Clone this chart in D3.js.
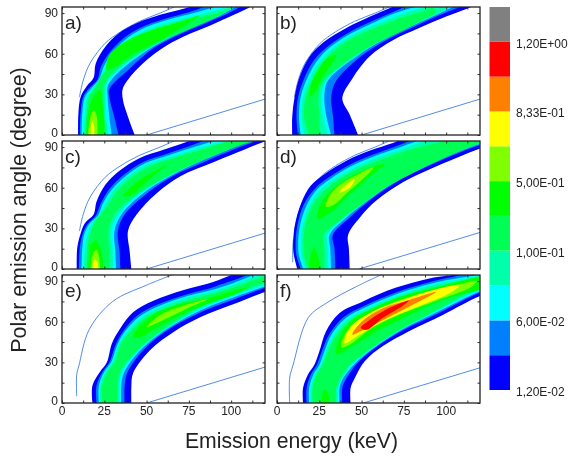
<!DOCTYPE html>
<meta charset="utf-8">
<script src="https://d3js.org/d3.v7.min.js"></script>
<style>
  body { margin: 0; background: #fff; }
  text { font-family: "Liberation Sans", Arial, sans-serif; fill: #222; }
</style>
<div id="my_dataviz"></div>
<script>

// one contour = its left edge going up + its right edge going up, [keV, degree]
const band = (left, right) => left.concat(right.slice().reverse());

// color bar, from the lowest bin to the highest
const barColors = ["#0000ff", "#0080ff", "#00ffff", "#00ffaa", "#00ff55", "#00ff00", "#80ff00", "#ffff00", "#ff8000", "#ff0000", "#808080"];
const barLabels = ["1,20E-02", "6,00E-02", "1,00E-01", "5,00E-01", "8,33E-01", "1,20E+00"];
const keVTicks = [0, 25, 50, 75, 100];
const degTicks = [0, 30, 60, 90];

// panel a
const a1 = band([[9.5,0],[9.7,16],[11,28],[14.6,36],[18.6,42],[20,53],[25.5,65],[33.4,75],[44,82.5],[58,88.7],[74,94],[84,98]],
                [[43,0],[39,13.5],[36,26],[36,34.5],[44.6,49],[58,63],[72,72.7],[88,81],[101.6,88.7],[110.5,94],[118,98]]);
const a2 = band([[10.6,0],[11,16],[12.5,28],[16,34.5],[21,41],[23,50.5],[28.5,61.5],[36,71],[46,79],[60,85.5],[76,91],[88,96]],
                [[33.4,0],[31,13],[28,28],[28,34],[40,49],[54,64],[68,73.5],[84,82],[98.6,90],[107.5,96],[114,99]]);
const a3 = band([[11.6,0],[12,16],[13.5,28],[17,34],[22,41.5],[24.5,50],[29.5,60.5],[37,70],[47,78],[61,84.5],[78,90],[92,95]],
                [[29.4,0],[28,13],[27,28],[27,36],[34,47],[51,63],[65,72.5],[80,81],[94,88.5],[104,95.5],[110,99]]);
const a4 = band([[13,0],[13.5,16],[15,28],[19,35],[23,43],[26,50],[31,60],[38.5,69],[49,77],[63,83],[80,88.5],[96,93.5]],
                [[27.5,0],[26,13],[25.5,30],[26,37],[32,47],[48,61.5],[62,71.5],[76,79],[90,86.5],[100,93],[106,98]]);
const a5 = band([[14,0],[14.5,16],[16,28],[20,36],[24,45],[27,49],[32,59],[40,68],[51,76],[65,82],[82,87],[98,92.5]],
                [[26,0],[25,13],[24.5,30],[25,37],[30,46],[46,60.5],[60,70],[74,77.5],[88,85],[97,91],[102,95]]);
const a6low = band([[14.5,0],[15,12],[16.5,22],[20,31],[22.5,33]], [[25,0],[25,10],[24,22]]);
const a6up = [[26.5,48],[27.5,58],[36,68],[52,77],[68,83],[81,88],[74,82],[58,70],[42,60],[31,50]];
const a7 = band([[15.5,0],[16,8],[17.5,16],[19,18]], [[21,0],[21,6],[20.5,14]]);
const a8 = band([[17,0],[17,6],[18,10.5]], [[19,0],[19,6]]);
const aBands = [a1, a2, a3, a4, a5, a6low, a6up, a7, a8];
const aLevels = [0, 1, 2, 3, 4, 5, 5, 6, 7];

// panel b
const b1 = band([[9,0],[9,13.5],[10.4,28],[13.4,43],[19.3,58],[28,69],[41,79],[55,87.4],[66.5,93.6],[76,98]],
                [[48,0],[43,15],[38.6,27],[44,40.6],[54.7,58],[68.5,70],[84,79],[100,87.4],[113.8,94],[122,98]]);
const b2 = band([[12.4,0],[11.5,13.5],[12.5,28],[16,41.5],[22,55.5],[31,66.5],[43.5,76.5],[57,84.5],[69,91],[80,96]],
                [[34,0],[33,15],[32,28],[35,40],[50,58.5],[64.5,70],[81,80],[97,89],[109,95],[116,99]]);
const b3 = band([[14,0],[13,13.5],[14,28],[17.5,41],[23.5,54.5],[32,65.5],[44.5,75.5],[58,83.5],[70,90],[84,95]],
                [[32,0],[29,15],[28,28],[30,40],[47,58],[62,69.5],[78,79.5],[93,88],[104,94.5],[110,98]]);
const b4 = band([[16,0],[14.5,13.5],[15.5,28],[19,40.5],[25,53.5],[33.5,64.5],[46,74.5],[60,82.5],[72,88.5],[86,94]],
                [[30,0],[27,15],[26,28],[29,40],[45,57],[60,68.5],[76,78.5],[90,86.5],[100,93],[104,98]]);
const b5 = band([[19,0],[16,13],[17,28],[20.5,40],[26.5,52.5],[35,63.5],[47,73],[62,81],[74,87],[88,92]],
                [[25,0],[25,15],[24.5,28],[27.5,40],[43,56],[58,67.5],[74,77],[86,85],[94,91],[92,94]]);
const b6 = [[19.5,28],[20,36],[24,48],[30,57],[35,59],[32,52],[27,43],[23,33]];
const bBands = [b1, b2, b3, b4, b5, b6];
const bLevels = [0, 1, 2, 3, 4, 5];

// panel c
const c1 = band([[8.7,0],[9,15.5],[10.7,25],[13.6,34],[18.6,40],[20.5,50],[25.5,62],[33.4,72],[46,82],[60,88],[74,94],[84,98]],
                [[41,0],[40,13],[39,28],[44,40],[56,56],[70,68.5],[88,78],[103.5,86],[119.4,94],[130,98]]);
const c2 = band([[10,0],[10.5,15.5],[12,25],[15,33],[20,39.5],[23,48.5],[28,59],[36,69],[48,79],[62,85],[76,91],[88,96]],
                [[34.5,0],[34,13],[33,28],[37,40],[50,55.5],[66,69],[84,79],[100,87.5],[116,95],[128,99]]);
const c3 = band([[11.5,0],[12,15.5],[13,25],[16,33],[21.5,40],[24,48],[29,58],[37,68],[49,78],[63,84],[78,90],[92,95]],
                [[32,0],[31.5,13],[31,28],[35,40],[47,55],[63,68],[80,78.5],[97,87.5],[112,95],[124,99]]);
const c4 = band([[13,0],[13.5,15.5],[15,25],[18,34],[22.5,41],[25.5,47.5],[30,57],[38,67],[50,77],[65,83],[80,89],[96,94]],
                [[30,0],[30,13],[29,28],[33,40],[44,54],[60,67],[77,77.5],[94,86.5],[110,94],[122,98]]);
const c5 = band([[14.5,0],[15,15.5],[16.5,25],[19,34],[24,42],[27,46.5],[31.5,56],[39.5,66],[52,76],[66,82],[82,88],[100,94.5]],
                [[28,0],[28,13],[27.5,28],[31,40],[42,53],[58,65.5],[75,76],[92,85],[108,92.5],[122,97]]);
const c6low = band([[15.5,0],[16,10],[17,18],[20,21]], [[24.5,0],[24,8],[22,18]]);
const c6up = [[36,54],[42,62],[50,69],[62,77],[56,71],[48,62],[40,54]];
const c7 = band([[17,0],[17.5,8],[19,13],[20.5,14]], [[22.5,0],[22,8]]);
const c8 = band([[18,0],[18.5,5],[19.5,7]], [[21.5,0],[21,5]]);
const cBands = [c1, c2, c3, c4, c5, c6low, c6up, c7, c8];
const cLevels = [0, 1, 2, 3, 4, 5, 5, 6, 7];

// panel d
const d1 = band([[12,0],[10,10],[9.5,17],[10.5,32],[14.4,49],[20,61.6],[28,70],[41,80],[55,87.4],[68.5,93],[80,98]],
                [[43,0],[42.5,15],[42,25],[49,38],[58.7,50.5],[74.4,64],[90,73.5],[106,82],[120,89],[135,95]]);
const d2 = band([[14,0],[11.5,10],[11,17],[12,32],[16,48],[22.5,59.5],[30.5,67.5],[43,77],[57,84.5],[70,90.5],[84,96]],
                [[34.5,0],[34,15],[33,25],[43,38],[54.7,50.5],[70.5,64],[87,74.5],[104,84],[120,91.5],[135,97]]);
const d3s = band([[15.5,0],[13,10],[12.5,17],[13.5,31.5],[17.5,47],[23.5,58.5],[31.5,66.5],[44,76],[58,83.5],[72,89.5],[88,96]],
                 [[32,0],[31.5,15],[31,25],[40,37],[52,49],[68,63],[85,74],[102,84],[120,92.5],[135,98]]);
const d4 = band([[17,0],[14.5,10],[14,17],[15,31],[19,46],[25,57.5],[33,65.5],[46,75],[60,82.5],[74,88.5],[92,96]],
                [[30,0],[30,15],[29.5,25],[38,36],[49,47],[66,62],[83,73],[100,83],[118,92.5],[135,98]]);
const d5 = band([[18.5,0],[16,10],[15.5,17],[16.5,31],[20,45],[26.5,56],[34.5,64.5],[48,74],[62,81],[76,87],[100,94.5]],
                [[28,0],[28,15],[27.5,25],[36,35],[47,45],[64,60],[81,71.5],[98,81.5],[116,91],[135,98]]);
const d6low = band([[19,0],[19.5,8],[21,14],[22,16]], [[25,0],[25,5],[23.5,12]]);
const d6up = [[24,37],[25,46],[31,57],[43,68],[63.6,77.6],[54.7,68],[43,55],[33,43]];
const d7 = [[29,46],[31,54],[38,63],[48,70],[57,75],[52,68],[42,57],[33,47]];
const d8 = [[37,56.5],[39,60],[46,66.5],[43,60]];
const dBands = [d1, d2, d3s, d4, d5, d6low, d6up, d7, d8];
const dLevels = [0, 1, 2, 3, 4, 5, 5, 6, 7];

// panel e
const e1 = band([[18,0],[18,13],[22.5,23],[26.5,30],[29.5,44],[34.4,55],[42,67],[54,75.5],[72,83.5],[86,88],[99,94],[108,99]],
                [[41,0],[41,12],[42,22],[52,39],[66,52.5],[82,63.5],[101.6,73],[120,82],[131,86]]);
const e2 = band([[20.4,0],[20.4,13],[24,23],[28,30],[32,44],[37,54.5],[45,65],[56,72.5],[73,80],[87,84.5],[100,90],[120,97]],
                [[37,0],[37,12],[38.5,22],[48,39],[62,53.5],[82,67],[101.6,76.5],[120,85],[131,89]]);
const e3 = band([[21.8,0],[21.8,13],[25,23],[29,30],[33,44],[38,54],[46,64],[57,71.5],[74,79],[88,83.3],[101,88.5],[120,96]],
                [[35,0],[35,12],[36.5,22],[46,38.5],[60,53],[82,68.5],[101.6,78],[120,86],[131,90]]);
const e4 = band([[22.6,0],[22.6,13],[26,23],[30,30],[34,44],[39,53],[47,63],[58,70.5],[75,78],[89,82.3],[102,87.5],[120,94.5]],
                [[34,0],[34,12],[35,22],[44,37.5],[58,52],[82,70],[101.6,79.5],[120,87.5],[131,91]]);
const e5 = band([[23.6,0],[23.6,13],[27,23],[31,30],[35,44],[40,52],[48,61.5],[59,69],[76,76.5],[90,81],[103,86],[120,93]],
                [[33,0],[33,12],[34,22],[42,36],[56,51],[82,71.5],[101.6,81],[120,89],[131,93]]);
const e6 = [[42,48.8],[51,63],[68,72.5],[86,77],[105.6,84.5],[111,86],[103.6,81],[86,73],[68,63.5],[54,54],[46,48.5]];
const e7 = [[50,56],[58,65],[72,72],[86,76.5],[76,71],[62,62.5]];
const eBands = [e1, e2, e3, e4, e5, e6, e7];
const eLevels = [0, 1, 2, 3, 4, 5, 6];

// panel f
const f1 = band([[15.4,0],[15.4,11],[18.3,21],[22,28],[25,38],[29,53],[37,66.5],[50.8,75],[70,85],[90,92],[106,95],[120,99]],
                [[43.5,0],[43.5,11],[46,18.5],[52,31],[62.6,42],[78,53],[98,65],[120,79],[130,82.5]]);
const f2 = band([[17.5,0],[17.5,11],[20,21],[23.5,28],[26.5,38],[31,51],[39.5,63.5],[52,72],[71,82],[91,89.5],[107,94],[122,98]],
                [[38.6,0],[38.6,11],[41,18],[48,30],[59,41.5],[75,54],[95,66],[120,81.5],[130,85]]);
const f3 = band([[19,0],[19,11],[21.5,21],[25,28],[28,38],[32,50],[40.5,62.5],[53,71],[72,81],[92,88.5],[120,95],[130,98]],
                [[37,0],[37,11],[39,18],[46,29],[57,40.5],[73,53.5],[93,66],[120,82.5],[130,86]]);
const f4 = band([[20,0],[20,11],[22.5,21],[26,28],[29,38],[33,49],[41.5,61.5],[54,70],[73,80],[93,87.5],[120,94],[130,97]],
                [[36,0],[36,11],[38,17],[44,28],[55,39.5],[71,53],[91,66],[120,84],[130,87]]);
const f5 = band([[21,0],[21,11],[23.5,21],[27,28],[30,38],[34,48],[42.5,60],[55,68.5],[74,78.5],[94,86],[120,93],[130,96]],
                [[35,0],[35,11],[36.5,16],[42,27],[53,38],[69,51.5],[89,65],[120,85.5],[130,89]]);
const f6low = band([[26,0],[27,8]], [[31,0],[30,8],[28,10]]);
const f6up = [[35,36],[36,45.5],[43,60],[55,69],[74,79],[94,85],[125,93],[125,87],[100,77],[78,65],[59,53],[45,42]];
const f7 = [[38,41],[40,50.5],[47,60],[62.6,71],[80,79],[100,85],[118,90],[114,85],[94,75.5],[74,66],[55,54.5],[44,44]];
const f8 = [[40,44],[43,55.5],[55,66.5],[74,76],[94,84],[108,87],[102,81],[84,71.5],[64.5,61.5],[49,50.5]];
const f9 = [[44.5,50.5],[50,60],[62.6,70],[78,76],[94,82],[84,75],[68.5,65],[55,56.6]];
const f10 = [[49.5,55.5],[55,61.5],[64.5,69],[78,75.6],[74,71.5],[62.6,63],[53,54]];
const fBands = [f1, f2, f3, f4, f5, f6low, f6up, f7, f8, f9, f10];
const fLevels = [0, 1, 2, 3, 4, 5, 5, 6, 7, 8, 9];

// the two thin blue kinematic lines
const upperLine = [[10.3,28],[12.6,40.6],[16.6,53],[25.5,67.7],[34.4,76],[46,84],[58,90],[68,95.5]];
const dLowerStub = [[9.3,5],[9.3,14],[9.7,22]];
const eUpperLine = [[8.7,5],[8.7,21],[10,27.5],[16,54],[30,75],[50,87],[67,95.5]];
const fUpperLine = [[7.5,0],[7.5,18.5],[9.5,28],[18.5,63],[29.5,74],[47,86],[63,95.5]];
const lowerLineA = [[50,0],[120,26.5]];
const lowerLineD = [[48.5,0],[120,27]];
const lowerLineF = [[51,0],[120,26]];

const panels = [
  {name: "a)", left: 62,  top: 7,   bands: aBands, levels: aLevels, lines: [upperLine, lowerLineA], yLabels: true,  xLabels: false},
  {name: "b)", left: 277, top: 7,   bands: bBands, levels: bLevels, lines: [upperLine, lowerLineA], yLabels: false, xLabels: false},
  {name: "c)", left: 62,  top: 141, bands: cBands, levels: cLevels, lines: [upperLine, lowerLineA], yLabels: true,  xLabels: false},
  {name: "d)", left: 277, top: 141, bands: dBands, levels: dLevels, lines: [upperLine, dLowerStub, lowerLineD], yLabels: false, xLabels: false},
  {name: "e)", left: 62,  top: 275, bands: eBands, levels: eLevels, lines: [eUpperLine, lowerLineA], yLabels: true,  xLabels: true},
  {name: "f)", left: 277, top: 275, bands: fBands, levels: fLevels, lines: [fUpperLine, lowerLineF], yLabels: false, xLabels: true}
];

const pw = 203, ph = 128;

const svg = d3.select("#my_dataviz").append("svg")
    .attr("width", 571)
    .attr("height", 457)
    .style("display", "block")
    .style("filter", "blur(0.4px)");

const x = d3.scaleLinear().domain([0, 120]).range([0, pw]);
const y = d3.scaleLinear().domain([0, 94.5]).range([ph, 0]);

const line = d3.line().x(d => x(d[0])).y(d => y(d[1]));
const thinLine = d3.line().x(d => x(d[0])).y(d => y(d[1])).curve(d3.curveCatmullRom);

// contours sitting on the x axis get a straight bottom, the others are closed blobs
function contourPath(pts) {
  if (pts[0][1] === 0) return line.curve(d3.curveCatmullRom)(pts) + "Z";
  return line.curve(d3.curveCatmullRomClosed)(pts);
}

const minorX = d3.range(0, 121, 12.5);
const minorY = d3.range(0, 91, 15);

panels.forEach(function (p, i) {
  const g = svg.append("g").attr("transform", `translate(${p.left},${p.top})`);

  svg.append("clipPath").attr("id", "clip" + i)
    .append("rect").attr("width", pw).attr("height", ph);

  const plot = g.append("g").attr("clip-path", `url(#clip${i})`);

  plot.selectAll("path.thin")
    .data(p.lines)
    .join("path")
      .attr("class", "thin")
      .attr("d", thinLine)
      .attr("fill", "none")
      .attr("stroke", "#3f7fe6")
      .attr("stroke-width", 0.9);

  plot.selectAll("path.contour")
    .data(p.bands)
    .join("path")
      .attr("class", "contour")
      .attr("d", contourPath)
      .attr("fill", (d, j) => barColors[p.levels[j]]);

  // ticks point inwards on all four sides
  const sides = [
    {axis: d3.axisBottom(x), at: [0, ph], vals: minorX},
    {axis: d3.axisTop(x), at: [0, 0], vals: minorX},
    {axis: d3.axisLeft(y), at: [0, 0], vals: minorY},
    {axis: d3.axisRight(y), at: [pw, 0], vals: minorY}
  ];
  sides.forEach(function (s) {
    const a = g.append("g")
      .attr("transform", `translate(${s.at[0]},${s.at[1]})`)
      .call(s.axis.tickValues(s.vals).tickSize(-2.5).tickFormat(""));
    a.select(".domain").remove();
    a.selectAll(".tick line").attr("stroke", "#333").attr("stroke-width", 1);
  });

  g.append("rect")
    .attr("width", pw).attr("height", ph)
    .attr("fill", "none")
    .attr("stroke", "#222")
    .attr("stroke-width", 1.3);

  if (p.yLabels) {
    g.selectAll("text.ylab")
      .data(degTicks)
      .join("text")
        .attr("class", "ylab")
        .attr("x", -4)
        .attr("y", d => y(d) + (d === 0 ? 2 : 4))
        .attr("text-anchor", "end")
        .attr("font-size", 12)
        .text(d => d);
  }
  if (p.xLabels) {
    g.selectAll("text.xlab")
      .data(keVTicks)
      .join("text")
        .attr("class", "xlab")
        .attr("x", d => x(d))
        .attr("y", ph + 12)
        .attr("text-anchor", "middle")
        .attr("font-size", 12)
        .text(d => d);
  }

  g.append("text")
    .attr("x", 3)
    .attr("y", 22)
    .attr("font-size", 19)
    .text(p.name);
});

// color bar
const barY = d3.scaleLinear().domain([0, barColors.length]).range([390, 7]);
svg.selectAll("rect.bin")
  .data(barColors)
  .join("rect")
    .attr("class", "bin")
    .attr("x", 489.5)
    .attr("width", 20.5)
    .attr("y", (d, i) => barY(i + 1))
    .attr("height", (d, i) => barY(i) - barY(i + 1))
    .attr("fill", d => d);

svg.selectAll("text.binlab")
  .data(barLabels)
  .join("text")
    .attr("class", "binlab")
    .attr("x", 516)
    .attr("y", (d, i) => barY(i * 2) + 6)
    .attr("font-size", 12)
    .text(d => d);

// axis titles
svg.append("text")
  .attr("x", 291.5)
  .attr("y", 448)
  .attr("text-anchor", "middle")
  .attr("font-size", 21.2)
  .text("Emission energy (keV)");

svg.append("text")
  .attr("transform", "translate(26,210) rotate(-90)")
  .attr("text-anchor", "middle")
  .attr("font-size", 21.4)
  .text("Polar emission angle (degree)");

</script>
